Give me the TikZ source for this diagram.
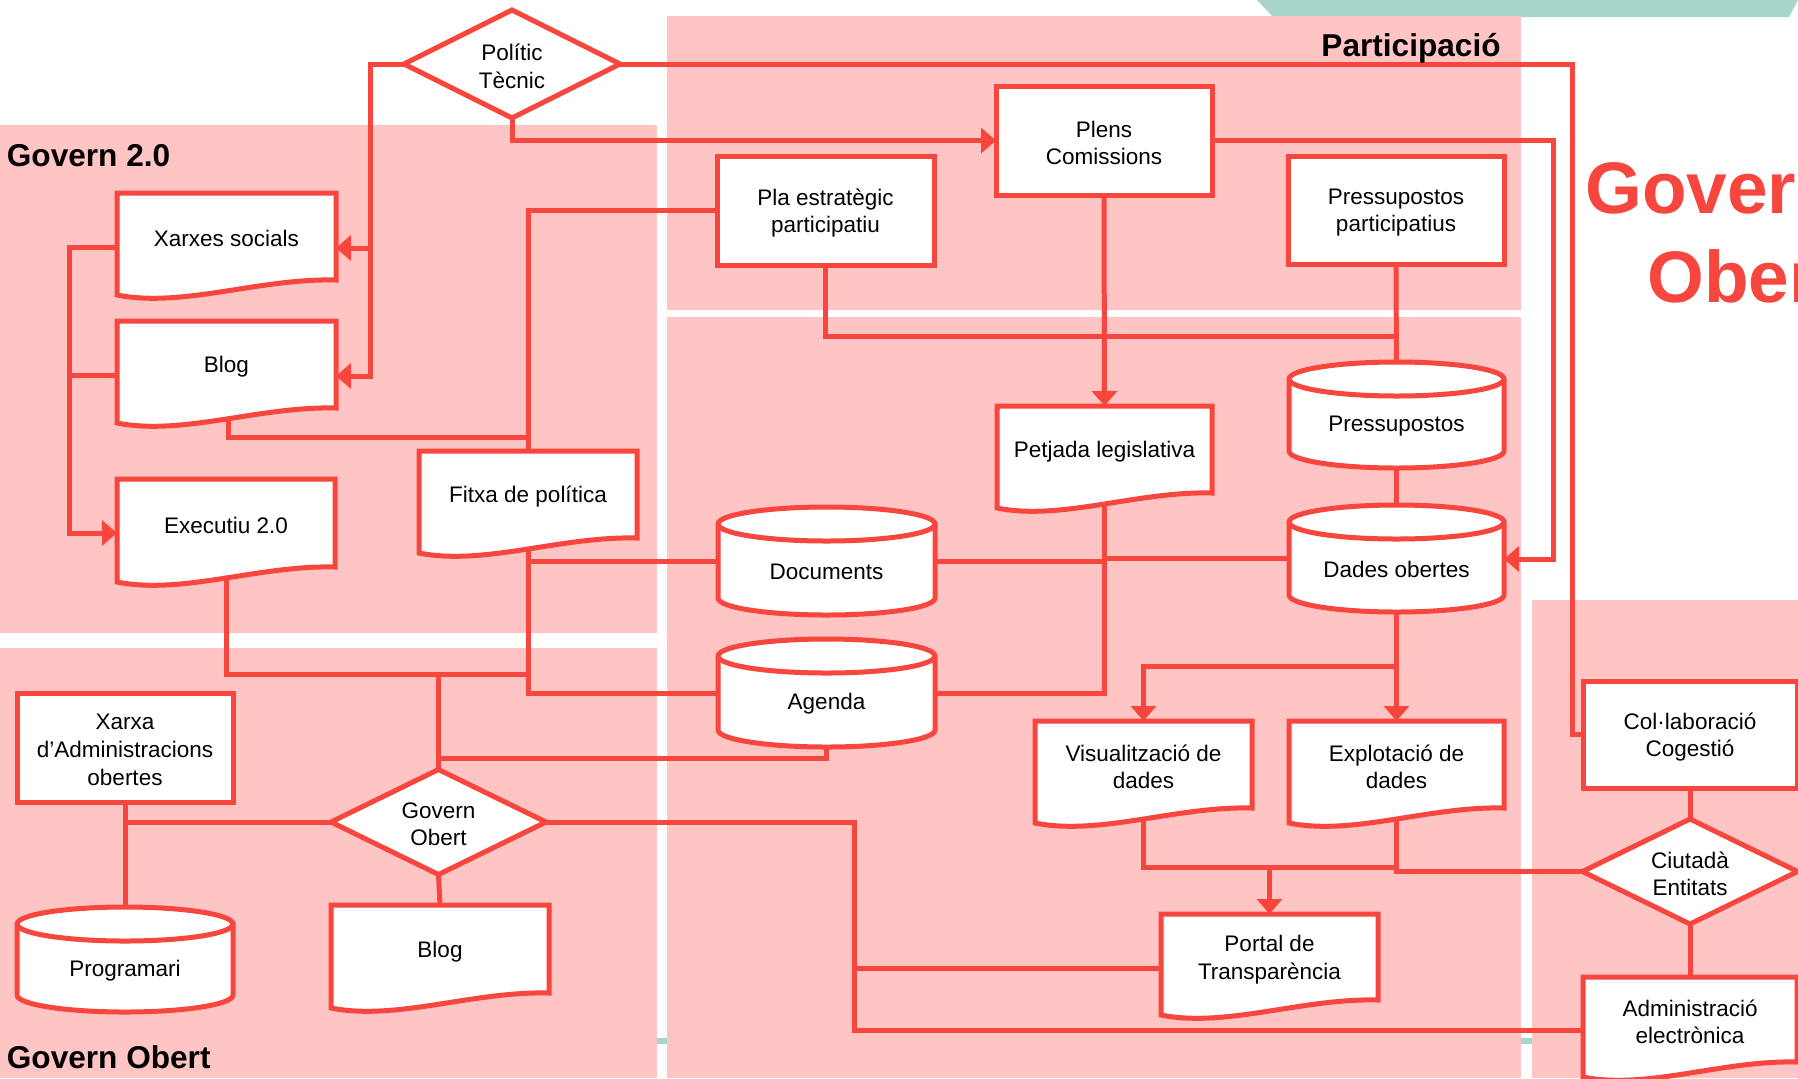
\documentclass[tikz,border=0pt]{standalone}
\usepackage{fontspec}
\setmainfont{Liberation Sans}
\usetikzlibrary{arrows.meta,calc}
\definecolor{lred}{RGB}{247,70,62}
\definecolor{lpink}{RGB}{255,196,196}
\definecolor{lteal}{RGB}{166,213,203}
\pgfdeclarelayer{regions}\pgfdeclarelayer{lines}\pgfdeclarelayer{shapes}
\pgfsetlayers{regions,lines,shapes,main}
\tikzset{
 ln/.style={draw=lred, line width=2.5pt},
 arr/.style={ln, -{Triangle[length=7.5pt,width=12.5pt]}},
 shp/.style={draw=lred, line width=2.5pt, fill=white, line join=miter},
 nbox/.style={inner sep=0pt, outer sep=0pt},
 ntxt/.style={inner sep=0pt, outer sep=0pt, align=center, font=\fontsize{11.25pt}{13.8pt}\selectfont},
 ttl/.style={inner sep=0pt, anchor=base west, font=\fontsize{15.8pt}{18pt}\selectfont\bfseries},
 bigtxt/.style={inner sep=0pt, anchor=base west, text=lred, font=\fontsize{36.5pt}{40pt}\selectfont\bfseries},
}
\newcommand\nodetext[2]{\node[ntxt] (#1-t) at ([yshift=-1.2pt]#1.center) {#2};}
% name, L, T, R, B(right corner), text
\newcommand\docnode[6]{%
 \begin{pgfonlayer}{shapes}
  \draw[shp] (#2,#3) -- (#4,#3) -- (#4,#5) .. controls ({#4-0.35*(#4-#2)},{#5-2}) and ({#2+0.3*(#4-#2)},{#5+28}) .. (#2,{#5+15}) -- cycle;
 \end{pgfonlayer}
 \node[nbox, minimum width={(#4-#2)*0.5pt}, minimum height={(#5-#3)*0.5pt}] (#1) at ({(#2+#4)/2},{(#3+#5)/2}) {};
 \nodetext{#1}{#6}
}
\newcommand\rectnode[6]{%
 \begin{pgfonlayer}{shapes}
  \draw[shp] (#2,#3) rectangle (#4,#5);
 \end{pgfonlayer}
 \node[nbox, minimum width={(#4-#2)*0.5pt}, minimum height={(#5-#3)*0.5pt}] (#1) at ({(#2+#4)/2},{(#3+#5)/2}) {};
 \nodetext{#1}{#6}
}
\newcommand\cylnode[6]{%
 \begin{pgfonlayer}{shapes}
  \draw[shp] (#2,{#3+17}) -- (#2,{#5-17}) arc[start angle=180,end angle=360,x radius={(#4-#2)*0.25pt},y radius=8.5pt] -- (#4,{#3+17}) arc[start angle=0,end angle=180,x radius={(#4-#2)*0.25pt},y radius=8.5pt] -- cycle;
  \draw[shp, fill=none] (#2,{#3+17}) arc[start angle=180,end angle=360,x radius={(#4-#2)*0.25pt},y radius=8.5pt];
 \end{pgfonlayer}
 \node[nbox, minimum width={(#4-#2)*0.5pt}, minimum height={(#5-#3-17)*0.5pt}] (#1) at ({(#2+#4)/2},{(#3+17+#5)/2}) {};
 \nodetext{#1}{#6}
}
% name, cx, cy, w, h, text
\newcommand\dianode[6]{%
 \begin{pgfonlayer}{shapes}
  \draw[shp] ({#2-#4/2},#3) -- (#2,{#3-#5/2}) -- ({#2+#4/2},#3) -- (#2,{#3+#5/2}) -- cycle;
 \end{pgfonlayer}
 \node[nbox, minimum width={#4*0.5pt}, minimum height={#5*0.5pt}] (#1) at (#2,#3) {};
 \nodetext{#1}{#6}
}
\begin{document}
\begin{tikzpicture}[x=0.5pt,y=-0.5pt]
\useasboundingbox (0,0) rectangle (1798,1078);
\begin{pgfonlayer}{regions}
 \fill[white] (0,0) rectangle (1798,1078);
 \fill[lteal] (650,1038) rectangle (1540,1044);
 \fill[lteal] (1257,0) -- (1798,0) -- (1789,17) -- (1273,17) -- cycle;
 \fill[lpink] (0,125) rectangle (657,633);
 \fill[lpink] (0,648) rectangle (657,1078);
 \fill[lpink] (667,16) rectangle (1521,310);
 \fill[lpink] (667,317) rectangle (1521,1078);
 \fill[lpink] (1532,600) rectangle (1798,1078);
\end{pgfonlayer}

\node[ttl] (tg2) at (6.5,166) {Govern 2.0};
\node[ttl, anchor=base east] (tpart) at (1501,56.5) {Participació};
\node[ttl] (tgo) at (6.5,1068) {Govern Obert};
\node[bigtxt] (big1) at (1585,213) {Govern};
\node[bigtxt] (big2) at (1647,302) {Obert};

\dianode{pt}{512}{64}{216}{108}{Polític\\Tècnic}
\dianode{go}{438.5}{822}{215}{105}{Govern\\Obert}
\dianode{ce}{1690}{871.5}{215}{105}{Ciutadà\\Entitats}

\docnode{xs}{117}{193}{336}{280}{Xarxes socials}
\docnode{blog1}{117}{321}{336}{408}{Blog}
\docnode{exec}{117}{479}{335}{567}{Executiu 2.0}
\docnode{fitxa}{419}{451}{637}{538}{Fitxa de política}
\docnode{petjada}{997}{406}{1212}{493}{Petjada legislativa}
\docnode{visual}{1035}{721}{1252}{808}{Visualització de\\dades}
\docnode{explot}{1289}{721}{1504}{808}{Explotació de\\dades}
\docnode{portal}{1161}{914}{1378}{1000}{Portal de\\Transparència}
\docnode{admin}{1583}{977}{1797}{1062}{Administració\\electrònica}
\docnode{blog2}{331}{905}{549}{993}{Blog}

\rectnode{pla}{717}{156}{934}{265}{Pla estratègic\\participatiu}
\rectnode{plens}{996}{86}{1212}{195}{Plens\\Comissions}
\rectnode{pp}{1288}{156}{1504}{264}{Pressupostos\\participatius}
\rectnode{xarxa}{17}{693}{233}{802}{Xarxa\\d’Administracions\\obertes}
\rectnode{colab}{1583}{681}{1797}{788}{Col·laboració\\Cogestió}

\cylnode{pres}{1289}{362}{1504}{468}{Pressupostos}
\cylnode{dades}{1289}{505}{1504}{612}{Dades obertes}
\cylnode{docs}{718}{507}{935}{615}{Documents}
\cylnode{agenda}{718}{639}{935}{747}{Agenda}
\cylnode{prog}{17}{907}{233}{1012}{Programari}

\begin{pgfonlayer}{lines}
\draw[arr] (pt.west) -- (370,64) |- ([yshift=-5.75pt]xs.east);
\draw[arr] (pt.west) -- (370,64) |- ([yshift=-5.75pt]blog1.east);
\draw[arr] (pt.south) |- (plens.west);
\draw[ln] (pt.east) -- (1572,64) |- (colab.west);
\draw[arr] (plens.east) -- (1553,140.5) |- ([yshift=4pt]dades.east);
\draw[arr] (plens.south) -- (petjada.north);
\draw[ln] (pp.south) -- (pres.north);
\draw[ln] (pla.south) |- (1396,336);
\draw[ln] (pla.west) -| (fitxa.north);
\draw[ln] ([xshift=0.75pt]blog1.south) |- (528,437);
\draw[arr] ([yshift=-5.25pt]xs.west) -- (69,247) |- ([yshift=-5pt]exec.west);
\draw[ln] ([yshift=-5.25pt]blog1.west) -- (69,375);
\draw[ln] (exec.south) |- (528,674);
\draw[ln] (go.north) -- (438.5,674);
\draw[ln] (fitxa.south) |- ([yshift=4pt]agenda.west);
\draw[ln] (fitxa.south) |- ([yshift=4pt]docs.west);
\draw[ln] ([yshift=4pt]docs.east) -| (petjada.south);
\draw[ln] (petjada.south) |- ([yshift=4pt]agenda.east);
\draw[ln] (petjada.south) |- ([yshift=4.5pt]dades.west);
\draw[ln] (agenda.south) |- (438.5,758);
\draw[ln] (pres.south) -- (dades.north);
\draw[arr] (dades.south) -- (explot.north);
\draw[arr] (dades.south) -- (1396.5,666) -| (visual.north);
\draw[ln] (visual.south) |- (1396.5,867);
\draw[arr] (visual.south) -- (1143.5,867) -| (portal.north);
\draw[ln] (explot.south) |- (ce.west);
\draw[ln] (ce.north) -- (colab.south);
\draw[ln] (ce.south) -- (admin.north);
\draw[ln] (go.west) -| (xarxa.south);
\draw[ln] (xarxa.south) -- (prog.north);
\draw[ln] (go.east) -- (854,822) |- ([yshift=-5.5pt]admin.west);
\draw[ln] ([yshift=-5.5pt]portal.west) -- (854,968);
\draw[ln] (go.south) -- (blog2.north);
\end{pgfonlayer}
\end{tikzpicture}
\end{document}
